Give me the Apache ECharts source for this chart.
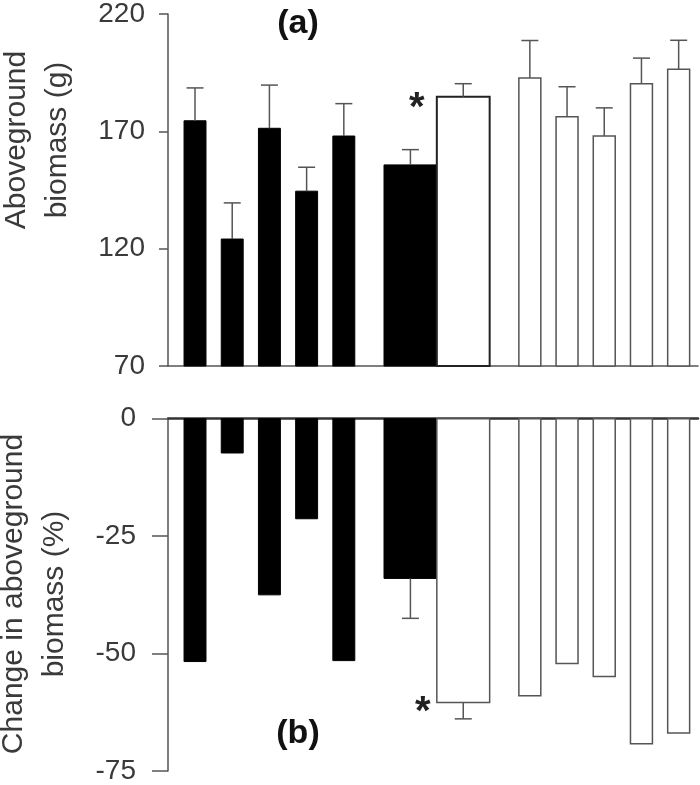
<!DOCTYPE html>
<html>
<head>
<meta charset="utf-8">
<script src="https://cdn.jsdelivr.net/npm/echarts@6/dist/echarts.min.js"></script>
<style>
  html, body { margin: 0; padding: 0; background: #fff; }
  #chart { width: 700px; height: 785px; }
</style>
</head>
<body>
<div id="chart"></div>
<script>
// panel (a): aboveground biomass (g), mean + SE
const blackBiomass = [174.5, 124.1, 171.3, 144.5, 168.0]
const blackBiomassSE = [14.0, 15.4, 18.4, 10.2, 13.8]
const meanBiomass = [155.7, 184.7]   // [black mean, white mean]
const meanBiomassSE = [6.5, 5.6]
const whiteBiomass = [192.7, 176.2, 168.0, 190.3, 196.5]
const whiteBiomassSE = [16.0, 12.8, 12.0, 10.9, 12.3]

// panel (b): change in aboveground biomass (%)
const blackChange = [-51.7, -7.3, -37.5, -21.3, -51.5]
const meanChange = [-34.0, -60.4]
const meanChangeSE = [8.5, 3.5]
const whiteChange = [-59.0, -52.1, -54.9, -69.2, -66.9]

const biomassTicks = [70, 120, 170, 220]
const changeTicks = [-75, -50, -25, 0]

const FONT = '"Liberation Sans", Arial, sans-serif'
const AXIS_COLOR = '#555'
const TEXT_COLOR = '#3a3a3a'
const NARROW = 0.59
const WIDE = 1.42

// item: [slot, value, se, isWhite, isWide, star]
function buildItems(black, blackSE, mean, meanSE, white, whiteSE) {
  const items = []
  black.forEach((v, i) => items.push([i + 1, v, blackSE ? blackSE[i] : 0, 0, 0, 0]))
  items.push([7.5 - WIDE / 2, mean[0], meanSE[0], 0, 1, 0])
  items.push([7.5 + WIDE / 2, mean[1], meanSE[1], 1, 1, 1])
  white.forEach((v, i) => items.push([i + 10, v, whiteSE ? whiteSE[i] : 0, 1, 0, 0]))
  return items
}

function barRenderer(base, starDx, starDy, wideStroke) {
  return function (params, api) {
    const slot = api.value(0)
    const val = api.value(1)
    const se = api.value(2)
    const isWhite = api.value(3)
    const isWide = api.value(4)
    const star = api.value(5)
    const w = api.size([isWide ? WIDE : NARROW, 0])[0]
    const p1 = api.coord([slot, val])
    const p0 = api.coord([slot, base])
    const cx = p1[0]
    const children = [{
      type: 'rect',
      shape: {x: cx - w / 2, y: Math.min(p0[1], p1[1]), width: w, height: Math.abs(p1[1] - p0[1])},
      style: isWhite
        ? {fill: '#fff', stroke: (isWide && wideStroke) ? '#222' : AXIS_COLOR, lineWidth: (isWide && wideStroke) ? 2 : 1.5}
        : {fill: '#000', stroke: '#000', lineWidth: 1}
    }]
    if (se > 0) {
      const sign = val >= base ? 1 : -1
      const pe = api.coord([slot, val + sign * se])
      children.push({type: 'line', shape: {x1: cx, y1: p1[1], x2: cx, y2: pe[1]}, style: {stroke: AXIS_COLOR, lineWidth: 1.5}})
      children.push({type: 'line', shape: {x1: cx - 8.5, y1: pe[1], x2: cx + 8.5, y2: pe[1]}, style: {stroke: AXIS_COLOR, lineWidth: 1.5}})
    }
    if (star) {
      children.push({
        type: 'text',
        style: {x: cx - w / 2 + starDx, y: p1[1] + starDy, text: '*', font: 'bold 40px ' + FONT, fill: '#222', align: 'center', verticalAlign: 'middle'}
      })
    }
    return {type: 'group', children: children}
  }
}

function yAxisCfg(grid, min, max, ticks, tickLen, margin) {
  return {
    gridIndex: grid, type: 'value', min: min, max: max,
    axisLine: {show: true, onZero: false, lineStyle: {color: AXIS_COLOR, width: 1.5}},
    axisTick: {show: true, length: tickLen, customValues: ticks, lineStyle: {color: AXIS_COLOR, width: 1.5}},
    axisLabel: {customValues: ticks, margin: margin, fontSize: 28, fontFamily: FONT, color: TEXT_COLOR},
    splitLine: {show: false}
  }
}

function xAxisCfg(grid, position, color, width) {
  return {
    gridIndex: grid, type: 'value', min: 0.274, max: 14.52, position: position,
    axisLine: {show: true, onZero: false, lineStyle: {color: color, width: width}},
    axisTick: {show: false}, axisLabel: {show: false}, splitLine: {show: false}
  }
}

const chart = echarts.init(document.getElementById('chart'))
chart.setOption({
  animation: false,
  grid: [
    {left: 168, top: 13, width: 530, height: 353},
    {left: 168, top: 418.7, width: 530, height: 353.6}
  ],
  xAxis: [xAxisCfg(0, 'bottom', AXIS_COLOR, 1.5), xAxisCfg(1, 'top', '#333', 2.5)],
  yAxis: [yAxisCfg(0, 70, 220, biomassTicks, 9, 23), yAxisCfg(1, -75, 0, changeTicks, 16, 32)],
  series: [
    {
      type: 'custom', xAxisIndex: 0, yAxisIndex: 0, clip: false,
      renderItem: barRenderer(70, -20, 12, true),
      data: buildItems(blackBiomass, blackBiomassSE, meanBiomass, meanBiomassSE, whiteBiomass, whiteBiomassSE)
    },
    {
      type: 'custom', xAxisIndex: 1, yAxisIndex: 1, clip: false, z: 1,
      renderItem: barRenderer(0, -14, 11, false),
      data: buildItems(blackChange, null, meanChange, meanChangeSE, whiteChange, null)
    }
  ],
  graphic: [
    {type: 'text', x: 37, y: 140, rotation: Math.PI / 2,
      style: {text: 'Aboveground\nbiomass (g)', font: '30px ' + FONT, lineHeight: 41, fill: TEXT_COLOR, align: 'center', verticalAlign: 'middle'}},
    {type: 'text', x: 34, y: 594, rotation: Math.PI / 2,
      style: {text: 'Change in aboveground\nbiomass (%)', font: '30px ' + FONT, lineHeight: 41, fill: TEXT_COLOR, align: 'center', verticalAlign: 'middle'}},
    {type: 'text', x: 298, y: 24,
      style: {text: '(a)', font: 'bold 34px ' + FONT, fill: '#111', align: 'center', verticalAlign: 'middle'}},
    {type: 'text', x: 298, y: 734,
      style: {text: '(b)', font: 'bold 34px ' + FONT, fill: '#111', align: 'center', verticalAlign: 'middle'}}
  ]
})
</script>
</body>
</html>
